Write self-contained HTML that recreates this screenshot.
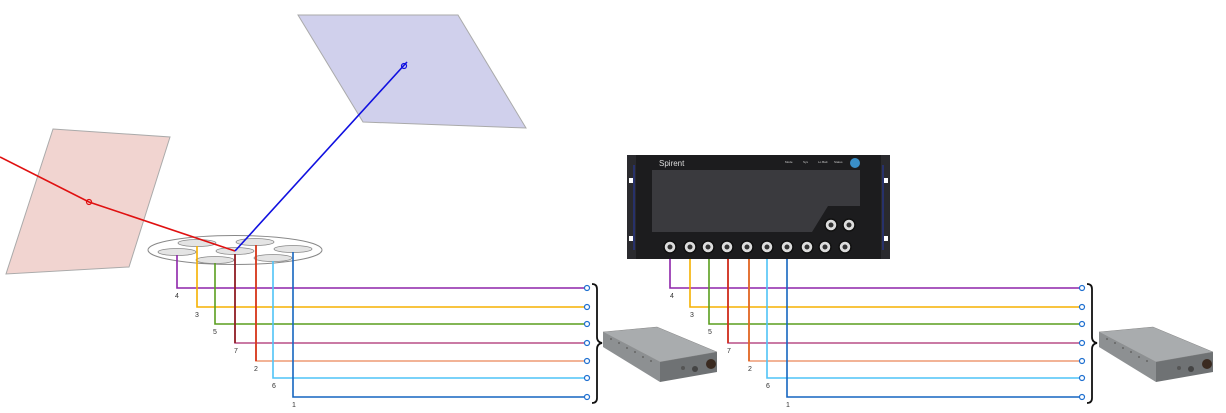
<!DOCTYPE html>
<html><head><meta charset="utf-8"><style>html,body{margin:0;padding:0;background:#fff}svg{display:block}text{font-family:"Liberation Sans",sans-serif}</style></head>
<body>
<svg width="1226" height="413" viewBox="0 0 1226 413" xmlns="http://www.w3.org/2000/svg">
<defs>
<g id="dev">
 <polygon points="0,10 54,5 114,30 57,40" fill="#a9acae" stroke="#888" stroke-width="0.5"/>
 <polygon points="0,10 57,40 57,60 0,25" fill="#8d9092"/>
 <polygon points="57,40 114,30 114,50 57,60" fill="#6f7274"/>
 <circle cx="108" cy="42" r="5" fill="#3a2a20"/>
 <circle cx="92" cy="47" r="3" fill="#444"/>
 <circle cx="80" cy="46" r="2" fill="#555"/>
 <g fill="#666"><circle cx="8" cy="17" r="1"/><circle cx="16" cy="21" r="1"/><circle cx="24" cy="26" r="1"/><circle cx="32" cy="30" r="1"/><circle cx="40" cy="35" r="1"/><circle cx="48" cy="39" r="1"/></g>
</g>
</defs>
<polygon points="53,129 170,137 129,267 6,274" fill="#f1d4d0" stroke="#aaa" stroke-width="1"/>
<polygon points="298,15 458,15 526,128 363,122" fill="#d0d0ec" stroke="#aaa" stroke-width="1"/>
<ellipse cx="235" cy="250" rx="87" ry="14.5" fill="#fff" stroke="#888" stroke-width="1"/>
<g fill="#e4e4e4" stroke="#888" stroke-width="0.8">
<ellipse cx="177" cy="252" rx="19" ry="3.5"/><ellipse cx="197" cy="243" rx="19" ry="3.5"/>
<ellipse cx="215" cy="260" rx="19" ry="3.5"/><ellipse cx="235" cy="251" rx="19" ry="3.5"/>
<ellipse cx="255" cy="242" rx="19" ry="3.5"/><ellipse cx="273" cy="258" rx="19" ry="3.5"/>
<ellipse cx="293" cy="249" rx="19" ry="3.5"/></g>
<polyline points="0,157 89,202 235,251" fill="none" stroke="#e01010" stroke-width="1.6"/>
<circle cx="89" cy="202" r="2.5" fill="none" stroke="#e01010" stroke-width="1.2"/>
<line x1="235" y1="251" x2="407" y2="62" stroke="#1010e0" stroke-width="1.6"/>
<circle cx="404" cy="66" r="2.5" fill="none" stroke="#1010e0" stroke-width="1.2"/>
<g fill="none" stroke-width="1.6">
<polyline points="177,255 177,288 587,288" stroke="#8e24aa"/>
<polyline points="197,246 197,307 587,307" stroke="#f5b000"/>
<polyline points="215,263 215,324 587,324" stroke="#5a9e1e"/>
<polyline points="235,254 235,343 587,343" stroke="#b84e86"/>
<line x1="235" y1="254" x2="235" y2="343" stroke="#8b1a1a"/>
<polyline points="256,245 256,361 587,361" stroke="#ee9a74"/>
<line x1="256" y1="245" x2="256" y2="361" stroke="#d42a10"/>
<polyline points="273,261 273,378 587,378" stroke="#4fc3f7"/>
<polyline points="293,252 293,397 587,397" stroke="#1565c0"/>
</g>
<g fill="#fff" stroke="#1e6fd0" stroke-width="1.2">
<circle cx="587" cy="288" r="2.5"/><circle cx="587" cy="307" r="2.5"/><circle cx="587" cy="324" r="2.5"/><circle cx="587" cy="343" r="2.5"/><circle cx="587" cy="361" r="2.5"/><circle cx="587" cy="378" r="2.5"/><circle cx="587" cy="397" r="2.5"/></g>
<g font-size="7" fill="#333">
<text x="175" y="298">4</text><text x="195" y="317">3</text><text x="213" y="334">5</text><text x="234" y="353">7</text><text x="254" y="371">2</text><text x="272" y="388">6</text><text x="292" y="407">1</text></g>
<path d="M592,284 q5,0 5,5 v48 q0,5 5,6 q-5,1 -5,6 v49 q0,5 -5,5" fill="none" stroke="#111" stroke-width="1.8"/>
<use href="#dev" x="603" y="322"/>
<rect x="627" y="155" width="263" height="104" fill="#1c1c1e"/>
<rect x="627" y="155" width="9" height="104" fill="#2a2a2e"/><rect x="881" y="155" width="9" height="104" fill="#2a2a2e"/>
<line x1="634" y1="165" x2="634" y2="250" stroke="#2438a8" stroke-width="1"/>
<line x1="883" y1="165" x2="883" y2="250" stroke="#2438a8" stroke-width="1"/>
<rect x="629" y="178" width="4" height="5" fill="#fff"/><rect x="629" y="236" width="4" height="5" fill="#fff"/>
<rect x="884" y="178" width="4" height="5" fill="#fff"/><rect x="884" y="236" width="4" height="5" fill="#fff"/>
<path d="M652,170 H860 V206 H828 L812,232 H652 Z" fill="#3a3a3e"/>
<text x="659" y="166" font-size="8" fill="#ddd">Spirent</text>
<g font-size="3" fill="#ccc"><text x="785" y="163">Mode</text><text x="803" y="163">Sys</text><text x="818" y="163">Lo Batt</text><text x="834" y="163">Status</text></g>
<circle cx="855" cy="163" r="5" fill="#3a8fc8"/>
<g fill="#ddd" stroke="#111" stroke-width="1.5">
<circle cx="670" cy="247" r="6"/><circle cx="690" cy="247" r="6"/><circle cx="708" cy="247" r="6"/><circle cx="727" cy="247" r="6"/><circle cx="747" cy="247" r="6"/><circle cx="767" cy="247" r="6"/><circle cx="787" cy="247" r="6"/><circle cx="807" cy="247" r="6"/><circle cx="825" cy="247" r="6"/><circle cx="845" cy="247" r="6"/><circle cx="831" cy="225" r="6"/><circle cx="849" cy="225" r="6"/></g>
<g fill="#333"><circle cx="670" cy="247" r="2.5"/><circle cx="690" cy="247" r="2.5"/><circle cx="708" cy="247" r="2.5"/><circle cx="727" cy="247" r="2.5"/><circle cx="747" cy="247" r="2.5"/><circle cx="767" cy="247" r="2.5"/><circle cx="787" cy="247" r="2.5"/><circle cx="807" cy="247" r="2.5"/><circle cx="825" cy="247" r="2.5"/><circle cx="845" cy="247" r="2.5"/><circle cx="831" cy="225" r="2.5"/><circle cx="849" cy="225" r="2.5"/></g>
<g fill="none" stroke-width="1.6">
<polyline points="670,259 670,288 1082,288" stroke="#8e24aa"/>
<polyline points="690,259 690,307 1082,307" stroke="#f5b000"/>
<polyline points="709,259 709,324 1082,324" stroke="#5a9e1e"/>
<polyline points="728,259 728,343 1082,343" stroke="#b84e86"/>
<line x1="728" y1="259" x2="728" y2="343" stroke="#d42a10"/>
<polyline points="749,259 749,361 1082,361" stroke="#ee9a74"/>
<line x1="749" y1="259" x2="749" y2="361" stroke="#e0601a"/>
<polyline points="767,259 767,378 1082,378" stroke="#4fc3f7"/>
<polyline points="787,259 787,397 1082,397" stroke="#1565c0"/>
</g>
<g fill="#fff" stroke="#1e6fd0" stroke-width="1.2">
<circle cx="1082" cy="288" r="2.5"/><circle cx="1082" cy="307" r="2.5"/><circle cx="1082" cy="324" r="2.5"/><circle cx="1082" cy="343" r="2.5"/><circle cx="1082" cy="361" r="2.5"/><circle cx="1082" cy="378" r="2.5"/><circle cx="1082" cy="397" r="2.5"/></g>
<g font-size="7" fill="#333">
<text x="670" y="298">4</text><text x="690" y="317">3</text><text x="708" y="334">5</text><text x="727" y="353">7</text><text x="748" y="371">2</text><text x="766" y="388">6</text><text x="786" y="407">1</text></g>
<path d="M1087,284 q5,0 5,5 v48 q0,5 5,6 q-5,1 -5,6 v49 q0,5 -5,5" fill="none" stroke="#111" stroke-width="1.8"/>
<use href="#dev" x="1099" y="322"/>
</svg>
</body></html>
